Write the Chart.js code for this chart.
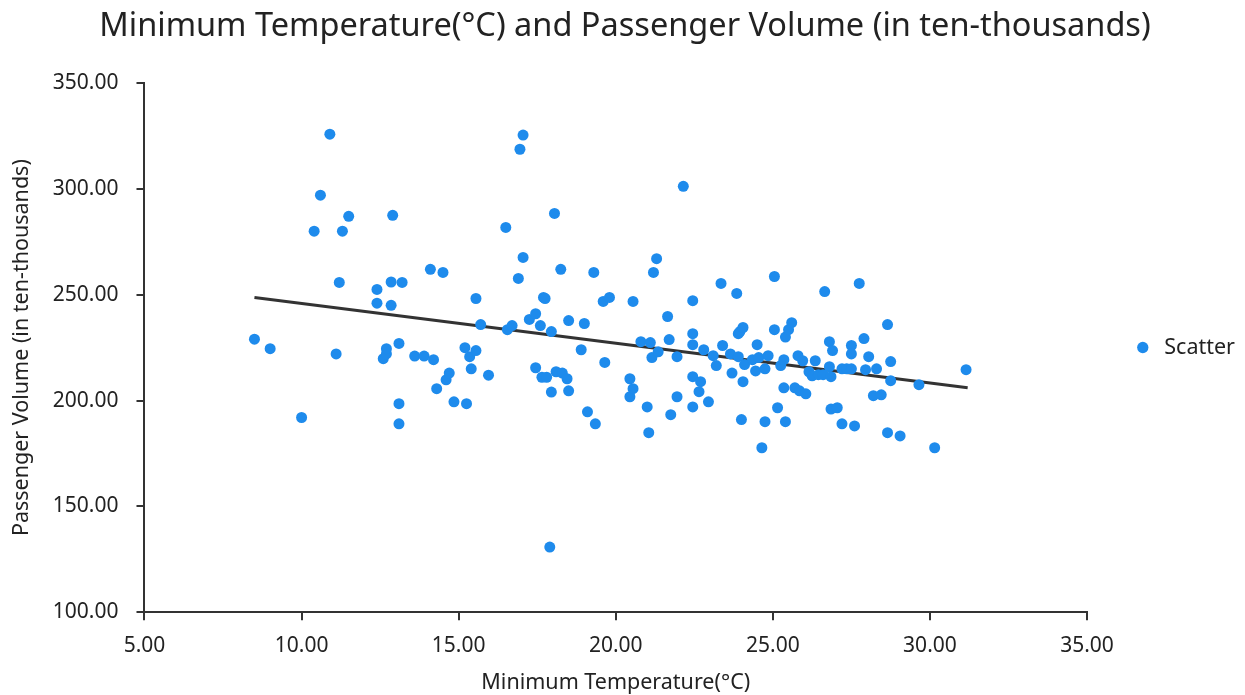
<!DOCTYPE html>
<html>
<head>
<meta charset="utf-8">
<script src="https://cdn.jsdelivr.net/npm/chart.js@4.4.0/dist/chart.umd.min.js"></script>
<style>
  html, body { margin: 0; padding: 0; background: #fff; }
  #wrap { width: 1245px; height: 695px; }
</style>
</head>
<body>
<div id="wrap"><canvas id="chart" width="1245" height="695"></canvas></div>
<script>
// Temperatura mínima (°C) por día
var tempMin = [
  8.5, 9.0, 10.0, 10.4, 10.6, 10.9, 11.1, 11.2, 11.3, 11.5,
  12.4, 12.4, 12.6, 12.7, 12.7, 12.85, 12.9, 12.85, 13.1, 13.1,
  13.1, 13.2, 13.6, 13.9, 14.1, 14.2, 14.3, 14.5, 14.6, 14.7,
  14.85, 15.2, 15.25, 15.35, 15.4, 15.55, 15.55, 15.7, 15.95, 16.5,
  16.55, 16.7, 16.9, 16.95, 17.05, 17.05, 17.25, 17.45, 17.45, 17.6,
  17.7, 17.75, 17.65, 17.8, 17.9, 17.95, 17.95, 18.05, 18.1, 18.25,
  18.3, 18.45, 18.5, 18.5, 18.9, 19.0, 19.1, 19.3, 19.35, 19.6,
  19.65, 19.8, 20.45, 20.45, 20.55, 20.55, 20.8, 21.0, 21.05, 21.1,
  21.15, 21.2, 21.3, 21.35, 21.65, 21.7, 21.75, 21.95, 21.95, 22.15,
  22.45, 22.45, 22.45, 22.45, 22.45, 22.65, 22.7, 22.8, 22.95, 23.1,
  23.2, 23.35, 23.4, 23.65, 23.7, 23.85, 23.9, 23.9, 23.95, 24.0,
  24.05, 24.05, 24.1, 24.35, 24.45, 24.5, 24.55, 24.65, 24.75, 24.75,
  24.85, 25.05, 25.05, 25.15, 25.25, 25.35, 25.35, 25.4, 25.4, 25.5,
  25.6, 25.7, 25.8, 25.85, 25.95, 26.05, 26.15, 26.25, 26.35, 26.45,
  26.6, 26.65, 26.8, 26.8, 26.85, 26.85, 26.9, 27.05, 27.2, 27.2,
  27.35, 27.5, 27.5, 27.5, 27.6, 27.75, 27.9, 27.95, 28.05, 28.2,
  28.3, 28.45, 28.65, 28.65, 28.75, 28.75, 29.05, 29.65, 30.15, 31.15
];
// Volumen de pasajeros (decenas de miles)
var pasajeros = [
  229, 224.5, 192, 280, 297, 325.8, 222, 255.8, 280, 287,
  252.5, 246, 219.8, 222, 224.5, 256, 287.5, 245, 227, 198.5,
  189, 255.8, 221, 221, 262, 219.3, 205.6, 260.5, 209.8, 213,
  199.4, 225, 198.5, 220.7, 215, 223.6, 248.2, 235.9, 212, 281.8,
  233.5, 235.4, 257.7, 318.7, 325.4, 267.6, 238.3, 241, 215.5, 235.4,
  248.7, 248.2, 211, 211, 130.8, 204, 232.6, 288.4, 213.6, 262,
  213, 210.3, 237.8, 204.6, 224, 236.4, 194.7, 260.5, 189, 246.8,
  218, 248.7, 210.3, 201.8, 205.6, 246.8, 227.8, 197, 184.8, 227.4,
  220.3, 260.5, 267, 223, 239.7, 228.8, 193.3, 201.8, 220.7, 301.2,
  247.2, 231.6, 226.4, 211.3, 197, 204.2, 208.9, 224, 199.4, 221.2,
  216.5, 255.3, 226, 222, 213, 250.6, 231.6, 220.7, 232.6, 191,
  234.5, 208.9, 217, 219.3, 214, 226.4, 220.3, 177.7, 190, 215,
  221.2, 258.6, 233.5, 196.6, 216.5, 219.3, 206, 190, 230, 233.5,
  236.8, 206, 221.2, 204.6, 218.8, 203.2, 213.6, 211.7, 218.8, 212.2,
  212.2, 251.5, 227.8, 216, 211.3, 196, 223.6, 196.6, 215, 189,
  215, 226, 215, 222, 188, 255.3, 229.3, 214.6, 220.7, 202.3,
  215, 202.7, 235.9, 184.8, 218.4, 209.4, 183.3, 207.5, 177.7, 214.6
];
// Línea de tendencia (extremos)
var trendX = [8.5, 31.2];
var trendY = [248.7, 206.0];

var xTicks = [5, 10, 15, 20, 25, 30, 35];
var yTicks = [100, 150, 200, 250, 300, 350];

var puntos = tempMin.map(function(t, i) { return { x: t, y: pasajeros[i] }; });
var tendencia = trendX.map(function(t, i) { return { x: t, y: trendY[i] }; });

var fuente = "'Noto Sans', sans-serif";
var ctx = document.getElementById('chart').getContext('2d');
var myChart = new Chart(ctx, {
    type: 'scatter',
    data: {
        datasets: [{
            label: 'Scatter',
            data: puntos,
            backgroundColor: 'rgb(30, 139, 236)',
            borderColor: 'rgb(30, 139, 236)',
            pointRadius: 5.5,
            pointHoverRadius: 5.5,
            borderWidth: 0
        }, {
            label: 'Trend',
            type: 'line',
            data: tendencia,
            borderColor: '#333333',
            borderWidth: 3,
            pointRadius: 0,
            fill: false
        }]
    },
    options: {
        responsive: false,
        animation: false,
        layout: { padding: { left: 5, right: 0, top: 0, bottom: 0 } },
        plugins: {
            title: {
                display: true,
                text: 'Minimum Temperature(°C) and Passenger Volume (in ten-thousands)',
                color: '#222',
                font: { family: fuente, size: 32.5, weight: 'normal' },
                padding: { top: 7, bottom: 37 }
            },
            legend: {
                position: 'right',
                labels: {
                    usePointStyle: true,
                    pointStyle: 'circle',
                    boxWidth: 22,
                    boxHeight: 8,
                    padding: 45,
                    color: '#222',
                    font: { family: fuente, size: 21.5 },
                    filter: function(item) { return item.text === 'Scatter'; }
                }
            },
            tooltip: { enabled: false }
        },
        scales: {
            x: {
                type: 'linear',
                min: 5,
                max: 35,
                afterBuildTicks: function(axis) { axis.ticks = xTicks.map(function(v) { return { value: v }; }); },
                ticks: {
                    color: '#222',
                    font: { family: fuente, size: 21, lineHeight: 1.1 },
                    padding: 14,
                    maxRotation: 0,
                    callback: function(v) { return Number(v).toFixed(2); }
                },
                grid: { drawOnChartArea: false, drawTicks: true, tickLength: 8, color: '#333', lineWidth: 2 },
                border: { color: '#333', width: 2 },
                title: {
                    display: true,
                    text: 'Minimum Temperature(°C)',
                    color: '#222',
                    font: { family: fuente, size: 21.5, lineHeight: 1.1 },
                    padding: { top: 0, bottom: 0 }
                }
            },
            y: {
                min: 100,
                max: 350,
                afterBuildTicks: function(axis) { axis.ticks = yTicks.map(function(v) { return { value: v }; }); },
                ticks: {
                    color: '#222',
                    font: { family: fuente, size: 21 },
                    padding: 18,
                    callback: function(v) { return Number(v).toFixed(2); }
                },
                grid: { drawOnChartArea: false, drawTicks: true, tickLength: 8, color: '#333', lineWidth: 2 },
                border: { color: '#333', width: 2 },
                title: {
                    display: true,
                    text: 'Passenger Volume (in ten-thousands)',
                    color: '#222',
                    font: { family: fuente, size: 21.5 },
                    padding: { top: 4, bottom: 0 }
                }
            }
        }
    }
});
</script>
</body>
</html>
